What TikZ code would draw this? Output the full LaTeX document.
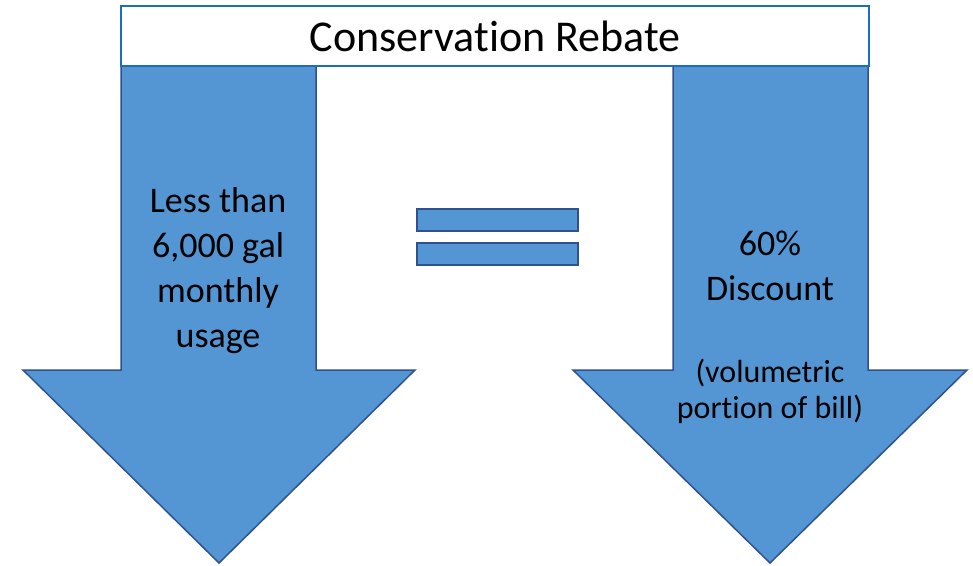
\documentclass[tikz,border=0pt]{standalone}
\usepackage{fontspec}
\setmainfont{Carlito}[Ligatures=NoCommon]
\usetikzlibrary{positioning}
\definecolor{arrowfill}{RGB}{83,150,211}
\definecolor{arrowline}{RGB}{47,82,143}
\definecolor{titleline}{RGB}{30,108,188}

\begin{document}
\begin{tikzpicture}[x=1pt, y=-1pt,
bigarrow/.style={fill=arrowfill, draw=arrowline, line width=1.5pt, line join=miter},
titlebox/.style={rectangle, draw=titleline, fill=white, line width=2.5pt, minimum width=748pt, minimum height=60pt, inner sep=0pt, font=\fontsize{44}{53}\selectfont},
eqbar/.style={rectangle, fill=arrowfill, draw=arrowline, line width=2.2pt, minimum width=161pt, minimum height=22pt, inner sep=0pt},
bigtext/.style={align=center, inner sep=0pt, font=\fontsize{36}{45}\selectfont},
smalltext/.style={align=center, inner sep=0pt, font=\fontsize{32}{36}\selectfont},
]
\useasboundingbox (0,0) rectangle (973,565);

%Arrows
\draw[bigarrow] (121,40) -- (316,40) -- (316,370) -- (415,370) -- (219,563) -- (23,370) -- (121,370) -- cycle;
\draw[bigarrow] (673,40) -- (868,40) -- (868,370) -- (967,370) -- (770,563) -- (573,370) -- (673,370) -- cycle;

%Nodes
\node[titlebox]  (title)   at (495,36)    {Conservation Rebate};
\node[bigtext]   (usage)   at (218,271)   {Less than\\6,000 gal\\monthly\\usage};
\node[bigtext]   (discount) at (770,266)  {60\%\\Discount};
\node[smalltext] (portion) [below=58pt of discount] {(volumetric\\portion of bill)};
\node[eqbar]     (eqtop)   at (497.5,220) {};
\node[eqbar]     (eqbot)   [below=10pt of eqtop] {};
\end{tikzpicture}
\end{document}
